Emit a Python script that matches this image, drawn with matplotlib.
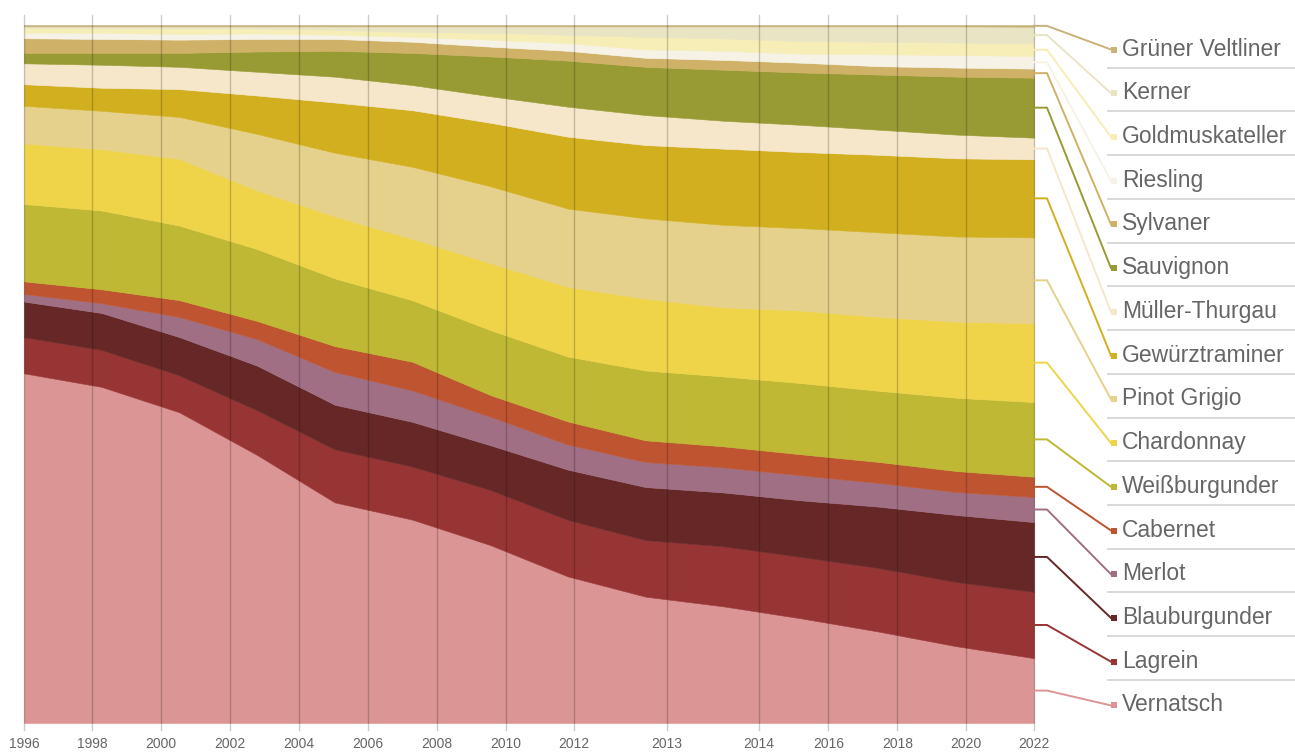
import matplotlib
matplotlib.use("Agg")
import matplotlib.pyplot as plt
from matplotlib.lines import Line2D
from matplotlib.patches import Rectangle
import numpy as np

plt.rcParams['font.family'] = ['Liberation Sans', 'DejaVu Sans']

W, H, DPI = 1295, 752, 100

# ---- data: share of vineyard area per variety (%), 14 survey points ----
points = np.arange(14)

tick_pos = [0, 0.875, 1.763, 2.652, 3.540, 4.428, 5.310, 6.198, 7.079,
            8.277, 9.461, 10.353, 11.243, 12.125, 13]
tick_labels = ["1996", "1998", "2000", "2002", "2004", "2006", "2008", "2010",
               "2012", "2013", "2014", "2016", "2018", "2020", "2022"]

vernatsch = [50.2, 48.2, 44.6, 38.4, 31.6, 29.1, 25.5, 21.0, 18.1, 16.7, 15.0, 13.1, 11.0, 9.3]
lagrein = [5.2, 5.3, 5.3, 6.4, 7.6, 7.6, 7.9, 8.1, 8.1, 8.6, 8.8, 9.1, 9.2, 9.5]
blauburgunder = [5.1, 5.3, 5.5, 6.4, 6.4, 6.4, 6.4, 7.2, 7.6, 7.7, 8.1, 8.8, 9.6, 10.0]
merlot = [1.1, 1.4, 2.9, 3.8, 4.7, 4.5, 4.1, 3.6, 3.6, 3.6, 3.6, 3.4, 3.3, 3.6]
cabernet = [1.8, 2.0, 2.4, 2.6, 3.7, 4.1, 3.1, 3.3, 3.1, 3.0, 3.0, 3.0, 3.0, 2.9]
weissburgunder = [11.1, 11.3, 10.7, 10.3, 9.7, 8.8, 9.3, 9.3, 10.0, 10.0, 10.2, 10.2, 10.5, 10.7]
chardonnay = [8.7, 8.8, 9.6, 8.4, 8.9, 8.8, 9.6, 10.0, 10.3, 9.9, 10.4, 10.6, 10.9, 11.3]
pinot_grigio = [5.4, 5.5, 6.0, 8.1, 9.1, 10.3, 11.0, 11.2, 11.5, 11.8, 11.8, 12.1, 12.2, 12.3]
gewuerztraminer = [3.1, 3.3, 4.0, 5.5, 7.2, 8.1, 9.1, 10.3, 10.5, 10.9, 10.9, 11.1, 11.2, 11.2]
mueller_thurgau = [3.0, 3.3, 3.2, 3.4, 3.7, 3.6, 3.8, 4.3, 4.3, 4.0, 3.9, 3.6, 3.4, 3.1]
sauvignon = [1.5, 1.7, 2.0, 2.9, 3.7, 4.6, 5.7, 6.6, 6.9, 7.3, 7.5, 7.9, 8.3, 8.6]
sylvaner = [2.1, 2.0, 1.9, 1.8, 1.7, 1.6, 1.4, 1.4, 1.3, 1.4, 1.4, 1.2, 1.3, 1.3]
riesling = [0.8, 0.9, 0.8, 0.8, 0.6, 0.7, 1.0, 1.1, 1.2, 1.3, 1.3, 1.7, 1.8, 1.8]
goldmuskateller = [0.7, 0.7, 0.8, 0.7, 0.7, 0.7, 1.0, 1.2, 1.8, 1.8, 1.8, 1.8, 1.8, 1.8]
kerner = [0.2, 0.2, 0.3, 0.3, 0.5, 0.8, 0.9, 1.2, 1.5, 1.7, 2.1, 2.2, 2.3, 2.4]
gruener_veltliner = [0.2, 0.2, 0.2, 0.2, 0.2, 0.2, 0.2, 0.2, 0.2, 0.2, 0.2, 0.2, 0.2, 0.25]

# stacking order, bottom to top
names = ["Vernatsch", "Lagrein", "Blauburgunder", "Merlot", "Cabernet",
         "Weißburgunder", "Chardonnay", "Pinot Grigio", "Gewürztraminer",
         "Müller-Thurgau", "Sauvignon", "Sylvaner", "Riesling",
         "Goldmuskateller", "Kerner", "Grüner Veltliner"]
series = [vernatsch, lagrein, blauburgunder, merlot, cabernet, weissburgunder,
          chardonnay, pinot_grigio, gewuerztraminer, mueller_thurgau, sauvignon,
          sylvaner, riesling, goldmuskateller, kerner, gruener_veltliner]
colors = ["#DA9594", "#973534", "#662827", "#A06F84", "#BE5430",
          "#BFB834", "#EFD44A", "#E5D18B", "#D2AF1F", "#F6E6CA",
          "#989B33", "#CFB167", "#F6F3E6", "#F7EDB6", "#E9E4C4", "#C8B27A"]

values = np.array(series, dtype=float)
values = values / values.sum(axis=0) * 100.0
tops = np.cumsum(values, axis=0)
bottoms = tops - values

# ---- figure ----
fig = plt.figure(figsize=(W / DPI, H / DPI), dpi=DPI)
ax_left, ax_right, ax_top, ax_bottom = 24, 1034, 25, 723
ax = fig.add_axes([ax_left / W, 1 - ax_bottom / H,
                   (ax_right - ax_left) / W, (ax_bottom - ax_top) / H])

for i, c in enumerate(colors):
    ax.fill_between(points, bottoms[i], tops[i], facecolor=c, edgecolor=c,
                    linewidth=0.4, zorder=2)
ax.set_xlim(0, 13)
ax.set_ylim(0, 100)

# vertical grid drawn over the areas
for p in tick_pos:
    ax.plot([p, p], [-0.010, 1.014], transform=ax.get_xaxis_transform(),
            color="black", alpha=0.2, lw=1.0, clip_on=False, zorder=5)

ax.set_xticks(tick_pos, tick_labels)
ax.tick_params(axis="x", length=0, pad=10, labelsize=10, labelcolor="#666666")
ax.set_yticks([])
for s in ax.spines.values():
    s.set_visible(False)

# ---- legend with leader lines ----
to_fig = ax.transData + fig.transFigure.inverted()
mids = tops[:, -1] - values[:, -1] / 2

def fx(px):
    return px / W

def fy(py):
    return 1 - py / H

n = len(names)
for k in range(n):
    idx = n - 1 - k  # legend lists the top band first
    base = 55.5 + k * 43.73
    mark_y = base - 6
    x0, y0 = to_fig.transform((13, mids[idx]))
    line = Line2D([x0, fx(1047), fx(1111)], [y0, y0, fy(mark_y)],
                  transform=fig.transFigure, color=colors[idx], lw=1.4,
                  solid_joinstyle="round")
    fig.add_artist(line)
    fig.add_artist(Rectangle((fx(1111), fy(mark_y + 3)), 6 / W, 6 / H,
                             transform=fig.transFigure, color=colors[idx], lw=0))
    fig.text(fx(1122), fy(base), names[idx], fontsize=16.5, color="#666666",
             va="baseline", ha="left")
    if k < n - 1:
        sep = 67.7 + k * 43.73
        fig.add_artist(Line2D([fx(1108), fx(1295)], [fy(sep), fy(sep)],
                              transform=fig.transFigure, color="#d6d6d6", lw=1.3))

fig.savefig("out.png", dpi=DPI)
